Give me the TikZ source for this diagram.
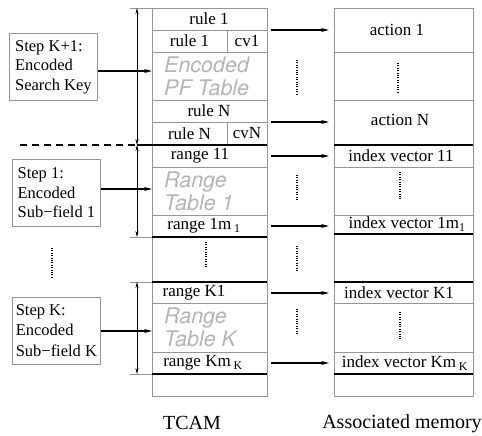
\documentclass[tikz,border=0pt]{standalone}
\usepackage{fontspec}
\setmainfont{Liberation Serif}
\newfontfamily\tablefont{TeX Gyre Heros}
\usetikzlibrary{arrows.meta}
\definecolor{rulegray}{HTML}{959595}
\definecolor{tablegray}{HTML}{B4B4B4}
\tikzset{
  cellline/.style={draw=rulegray,line width=0.8pt},
  sepline/.style={line width=2pt},
  celltext/.style={font=\fontsize{17}{20}\selectfont,inner sep=0pt},
  tabletext/.style={font=\tablefont\itshape\fontsize{21.5}{23}\selectfont,text=tablegray,align=left,anchor=west,inner sep=0pt},
  stepbox/.style={draw=rulegray,line width=0.8pt,font=\fontsize{16.5}{19.5}\selectfont,align=left,
    minimum width=88pt,minimum height=67pt,anchor=north west},
  dimarrow/.style={{Stealth[length=6pt,width=3pt]}-{Stealth[length=6pt,width=3pt]},line width=0.5pt},
  maparrow/.style={-{Stealth[length=8pt,width=4pt]},line width=1.1pt},
  vdots/.style={line width=1.3pt,dash pattern=on 1pt off 1.4pt}
}
\begin{document}
\begin{tikzpicture}[x=1pt,y=-1pt]
\useasboundingbox (0,0) rectangle (482,436);
% TCAM column
\draw[cellline] (152,8) rectangle (267,396);
\foreach \y in {30,52,100,122,167,215,303,352}
  \draw[cellline] (152,\y) -- (267,\y);
\draw[cellline] (227,30) -- (227,52);
\draw[cellline] (227,122) -- (227,145);
\foreach \y in {8,237,282,374}
  \draw[cellline] (130,\y) -- (152,\y);
\draw[sepline] (137,145) -- (267,145);
\foreach \y in {237,282,374}
  \draw[sepline] (152,\y) -- (267,\y);
\draw[sepline,dash pattern=on 7pt off 5pt] (20,145) -- (137,145);
% dimension arrows
\draw[dimarrow] (137,8) -- (137,145);
\draw[dimarrow] (137,145) -- (137,237);
\draw[dimarrow] (137,282) -- (137,374);
% associated memory column
\draw[cellline] (334,8) rectangle (473,396);
\foreach \y in {52,100,167,215,303,352}
  \draw[cellline] (334,\y) -- (473,\y);
\foreach \y in {145,234,282,374}
  \draw[sepline] (334,\y) -- (473,\y);
% TCAM entries
\node[celltext] (rule1) at (209,19) {rule 1};
\node[celltext] (rule1b) at (189.5,41) {rule 1};
\node[celltext] (cv1) at (247,41) {cv1};
\node[tabletext] (pftable) at (164,76) {Encoded\\PF Table};
\node[celltext] (ruleN) at (209,111) {rule N};
\node[celltext] (ruleNb) at (189.5,133.5) {rule N};
\node[celltext] (cvN) at (247,133.5) {cvN};
\node[celltext] (range11) at (200,156) {range 11};
\node[tabletext] (rangetab1) at (164,191) {Range\\Table 1};
\node[celltext] (range1m) at (204,226) {range 1m\,\textsubscript{1}};
\node[celltext] (rangeK1) at (194,292.5) {range K1};
\node[tabletext] (rangetabK) at (164,327) {Range\\Table K};
\node[celltext] (rangeKm) at (203,363) {range Km\,\textsubscript{K}};
% associated memory entries
\node[celltext] (action1) at (397,30) {action 1};
\node[celltext] (actionN) at (400,120) {action N};
\node[celltext] (iv11) at (401,156) {index vector 11};
\node[celltext] (iv1m) at (407,224) {index vector 1m\textsubscript{1}};
\node[celltext] (ivK1) at (399,292.5) {index vector K1};
\node[celltext] (ivKm) at (405,363) {index vector Km\,\textsubscript{K}};
% steps
\node[stepbox] (kbox) at (9,33) {Step K+1:\\Encoded\\Search Key};
\node[stepbox] (onebox) at (12,159) {Step 1:\\Encoded\\Sub−field 1};
\node[stepbox] (lastbox) at (12,297) {Step K:\\Encoded\\[2pt]Sub−field K};
\coordinate (pfin) at (152,71);
\coordinate (r1in) at (152,189);
\coordinate (rKin) at (152,331);
\draw[maparrow] (kbox.east |- pfin) -- (pfin);
\draw[maparrow] (onebox.east |- r1in) -- (r1in);
\draw[maparrow] (lastbox.east |- rKin) -- (rKin);
% lookups
\foreach \y [count=\i] in {30,122,156,226,293,363} {
  \coordinate (t\i) at (271,\y);
  \coordinate (m\i) at (329,\y);
  \draw[maparrow] (t\i) -- (m\i);
}
% dots
\draw[vdots] (52,248) -- (52,277);
\draw[vdots] (206,242) -- (206,268);
\foreach \a/\b in {60/95,175/201,246/272,309/335}
  \draw[vdots] (297,\a) -- (297,\b);
\draw[vdots] (398,63) -- (398,93);
\draw[vdots] (400,172) -- (400,199);
\draw[vdots] (400,312) -- (400,339);
% captions
\node[font=\fontsize{20}{22}\selectfont] (tcam) at (192,423) {TCAM};
\node[font=\fontsize{20}{22}\selectfont] (assoc) at (402,424) {Associated memory};
\end{tikzpicture}
\end{document}
